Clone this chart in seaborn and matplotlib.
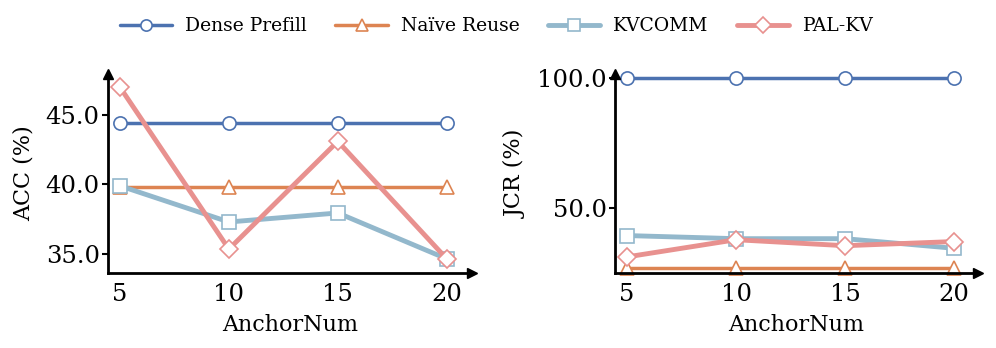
import pandas as pd
import matplotlib.pyplot as plt
import seaborn as sns

# anchor numbers on the x axis
anchor_num = [5, 10, 15, 20]
methods = ['Dense Prefill', 'Naïve Reuse', 'KVCOMM', 'PAL-KV']

# accuracy (%)
acc_dense = [44.45, 44.45, 44.45, 44.45]
acc_naive = [39.85, 39.85, 39.85, 39.85]
acc_kvcomm = [39.9, 37.3, 37.95, 34.65]
acc_palkv = [47.0, 35.35, 43.1, 34.65]

# JCR (%)
jcr_dense = [100.0, 100.0, 100.0, 100.0]
jcr_naive = [27.2, 27.2, 27.2, 27.2]
jcr_kvcomm = [39.5, 38.3, 38.3, 34.6]
jcr_palkv = [31.3, 37.9, 35.6, 37.2]

colors = ['#4c72b0', '#dd8452', '#93b8cc', '#e8918f']
markers = ['o', '^', 's', 'D']
widths = [2.5, 2.5, 3.5, 3.5]

sns.set_style('ticks')
plt.rcParams['font.family'] = ['DejaVu Serif']
plt.rcParams['text.color'] = 'black'
plt.rcParams['axes.labelcolor'] = 'black'
plt.rcParams['xtick.color'] = 'black'
plt.rcParams['ytick.color'] = 'black'

rows = []
for m, a, j in zip(methods, [acc_dense, acc_naive, acc_kvcomm, acc_palkv],
                   [jcr_dense, jcr_naive, jcr_kvcomm, jcr_palkv]):
    for x, av, jv in zip(anchor_num, a, j):
        rows.append({'method': m, 'AnchorNum': x, 'ACC': av, 'JCR': jv})
df = pd.DataFrame(rows)

fig = plt.figure(figsize=(9.96, 3.48), dpi=100)
ax1 = fig.add_axes([0.1084, 0.2155, 0.3655, 0.572])
ax2 = fig.add_axes([0.6175, 0.2155, 0.3645, 0.572])

for ax, col, ylab in [(ax1, 'ACC', 'ACC (%)'), (ax2, 'JCR', 'JCR (%)')]:
    for m, c, mk, lw in zip(methods, colors, markers, widths):
        sub = df[df['method'] == m]
        sns.lineplot(data=sub, x='AnchorNum', y=col, ax=ax, color=c, lw=lw,
                     marker=mk, markersize=9.5 if mk != 'D' else 9,
                     markerfacecolor='white', markeredgecolor=c,
                     markeredgewidth=1.2, label=m, legend=False, clip_on=False)
    ax.set_xlabel('AnchorNum', fontsize=16, labelpad=6)
    ax.set_ylabel(ylab, fontsize=16, labelpad=7.5)
    ax.set_xticks(anchor_num)
    ax.tick_params(labelsize=17.5, width=1.5, length=4, pad=2)
    ax.tick_params(axis='x', length=0, pad=7)
    sns.despine(ax=ax)
    for s in ['left', 'bottom']:
        ax.spines[s].set_linewidth(2)
        ax.spines[s].set_color('black')
    ax.plot(1, 0, '>k', transform=ax.transAxes, clip_on=False, markersize=7)
    ax.plot(0, 1, '^k', transform=ax.transAxes, clip_on=False, markersize=7)

ax1.set_xlim(4.45, 21.16)
ax1.set_ylim(33.63, 47.95)
ax1.set_yticks([35, 40, 45])
ax1.set_yticklabels(['35.0', '40.0', '45.0'])

ax2.set_xlim(4.45, 21.1)
ax2.set_ylim(25.1, 101.65)
ax2.set_yticks([50, 100])
ax2.set_yticklabels(['50.0', '100.0'])

handles, labels = ax1.get_legend_handles_labels()
fig.legend(handles, labels, loc='center', bbox_to_anchor=(0.4985, 0.925), ncol=4,
           frameon=False, handlelength=2.8, columnspacing=1.5, handletextpad=0.7,
           markerscale=0.85, prop={'family': 'DejaVu Serif', 'size': 13.5})

fig.savefig('out.png', dpi=100)
